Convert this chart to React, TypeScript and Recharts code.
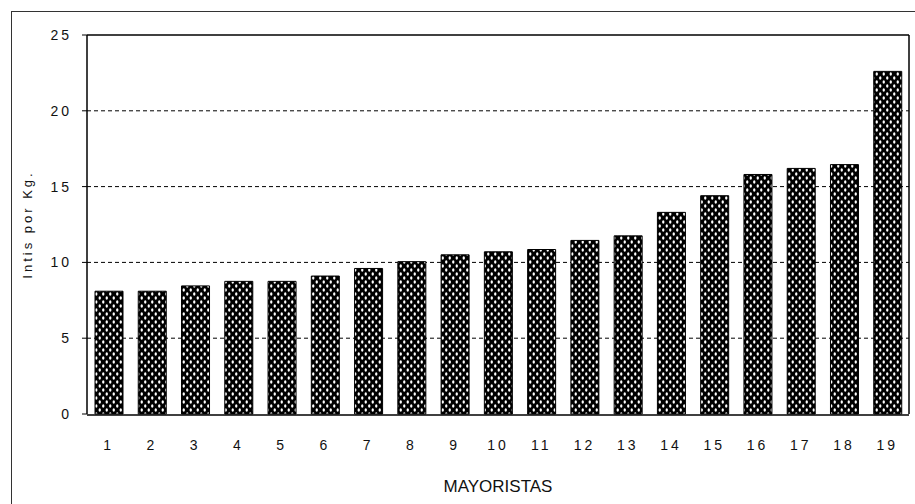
import { BarChart, Bar, XAxis, YAxis, CartesianGrid, ReferenceLine } from "recharts";

const mayoristas = ["1", "2", "3", "4", "5", "6", "7", "8", "9", "10", "11", "12", "13", "14", "15", "16", "17", "18", "19"];
const precios = [8.1, 8.1, 8.45, 8.75, 8.75, 9.1, 9.6, 10.05, 10.5, 10.7, 10.85, 11.45, 11.75, 13.3, 14.4, 15.8, 16.2, 16.45, 22.6];
const yTicks = [0, 5, 10, 15, 20, 25];
const bordes = [0, 1, 2, 3, 4, 5, 6, 7, 8, 9, 10, 11, 12, 13, 14, 15, 16, 17, 18, 19];

const data = mayoristas.map((m, i) => ({ m, v: precios[i] }));

const tickFont = {
  fontFamily: "'Liberation Sans Narrow', 'Liberation Sans', Arial, sans-serif",
  fontSize: 14,
  fill: "#111",
  letterSpacing: 3,
};

export default function App() {
  return (
    <div style={{ position: "absolute", left: 0, top: 0, width: 915, height: 504, background: "#fff" }}>
      <div
        style={{
          position: "absolute",
          left: 11,
          top: 11,
          right: 0,
          bottom: 0,
          borderLeft: "1px solid #333",
          borderTop: "1px solid #333",
        }}
      />
      <BarChart
        width={915}
        height={504}
        data={data}
        margin={{ top: 35, right: 0, left: 0, bottom: 0 }}
        barSize={28}
        style={{ position: "absolute", left: 0, top: 0 }}
      >
        <defs>
          <pattern id="puntos" width="7" height="8" patternUnits="userSpaceOnUse">
            <rect width="7" height="8" fill="#000" />
            <ellipse cx="1.75" cy="2" rx="1.2" ry="1.7" fill="#fff" />
            <ellipse cx="5.25" cy="6" rx="1.2" ry="1.7" fill="#fff" />
          </pattern>
        </defs>
        <CartesianGrid vertical={false} horizontal stroke="#000" strokeDasharray="4 3" horizontalValues={[5, 10, 15, 20]} />
        <XAxis
          dataKey="m"
          height={1}
          axisLine={false}
          tickLine={false}
          tickSize={0}
          tickMargin={26}
          tick={tickFont}
          interval={0}
        />
        <XAxis
          xAxisId="bordes"
          type="number"
          domain={[0, 19]}
          ticks={bordes}
          tick={false}
          tickSize={5}
          height={89}
          axisLine={{ stroke: "#000", strokeWidth: 1.5 }}
          tickLine={{ stroke: "#000" }}
          allowDataOverflow
          label={{
            value: "MAYORISTAS",
            position: "insideBottom",
            offset: 12,
            style: { fontFamily: "'Liberation Sans', Arial, sans-serif", fontSize: 17, fill: "#111" },
          }}
        />
        <YAxis
          domain={[0, 25]}
          ticks={yTicks}
          width={87}
          tickSize={5}
          tickMargin={10}
          tick={tickFont}
          axisLine={{ stroke: "#000", strokeWidth: 1.5 }}
          tickLine={{ stroke: "#000" }}
          label={{
            value: "Intis por Kg.",
            angle: -90,
            position: "insideLeft",
            offset: 27,
            style: {
              textAnchor: "middle",
              fontFamily: "'Liberation Sans', Arial, sans-serif",
              fontSize: 13,
              letterSpacing: 3,
              fill: "#111",
            },
          }}
        />
        <YAxis yAxisId="der" orientation="right" width={6} tick={false} tickLine={false} axisLine={{ stroke: "#000", strokeWidth: 1.5 }} />
        <ReferenceLine y={25} stroke="#000" strokeWidth={1.5} />
        <Bar dataKey="v" fill="url(#puntos)" stroke="#000" strokeWidth={1} isAnimationActive={false} />
      </BarChart>
    </div>
  );
}
